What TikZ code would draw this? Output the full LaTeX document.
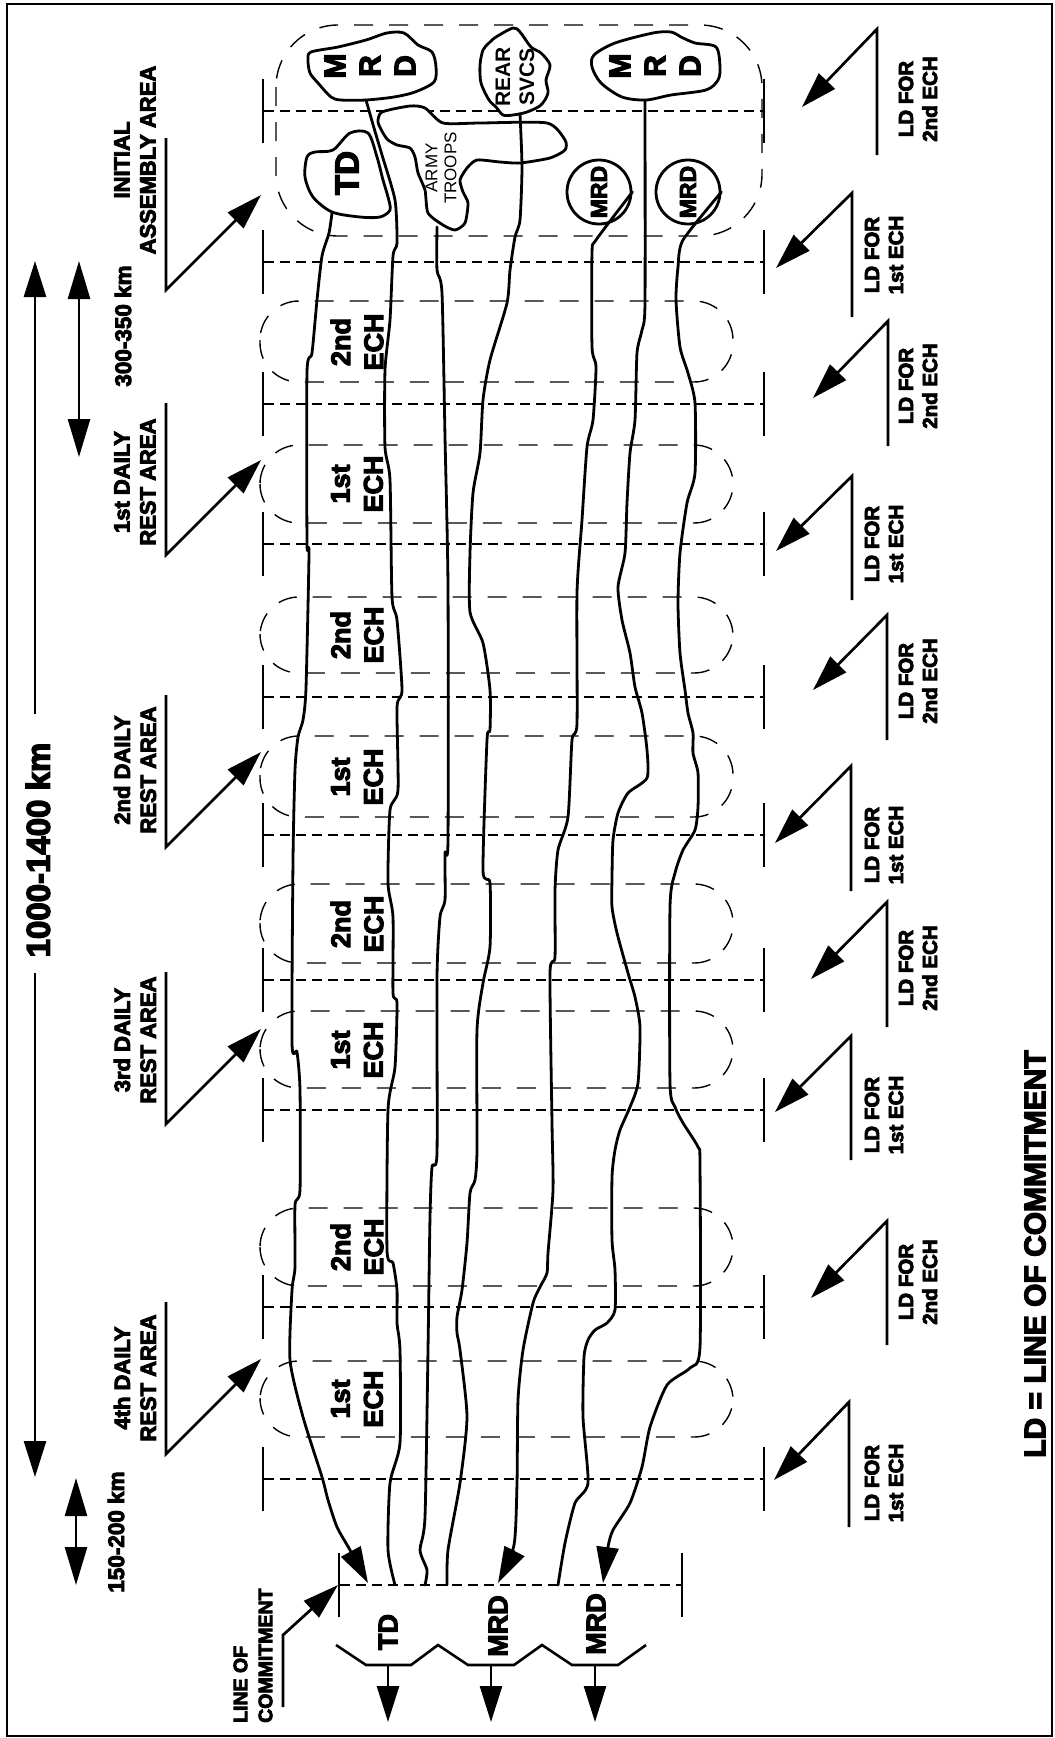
\documentclass[tikz,border=0pt]{standalone}
\usepackage{fontspec}
\setmainfont{Liberation Sans}
\newfontfamily\heavy[BoldFeatures={FakeBold=4}]{Liberation Sans}
\usepackage{tikz}
\usetikzlibrary{arrows.meta}
\tikzset{
    lbl/.style={rotate=90,align=center,inner sep=0pt},
    kmbig/.style={lbl,font=\fontsize{33}{38}\selectfont\heavy\bfseries},
    kmlbl/.style={lbl,font=\fontsize{22.5}{27}\selectfont\heavy\bfseries},
    restlbl/.style={lbl,font=\fontsize{22}{26}\selectfont\heavy\bfseries},
    ldlbl/.style={lbl,font=\fontsize{20.5}{24}\selectfont\heavy\bfseries},
    echlbl/.style={lbl,font=\fontsize{27}{33}\selectfont\heavy\bfseries},
    letters/.style={lbl,font=\fontsize{30}{35}\selectfont\heavy\bfseries},
    smalllbl/.style={lbl,font=\fontsize{21}{24}\selectfont\bfseries},
    tinylbl/.style={lbl,font=\fontsize{17}{19}\selectfont},
    bigarr/.style={-{Triangle[length=36pt,width=22pt]},line width=2.7pt},
    dblarr/.style={{Triangle[length=38pt,width=22pt]}-{Triangle[length=38pt,width=22pt]},line width=2.7pt},
    flow/.style={line width=2.8pt,line join=round,line cap=round},
    blob/.style={line width=2.8pt,line join=round,fill=white},
    mrdcirc/.style={circle,draw,line width=2.8pt,fill=white,minimum size=64pt,inner sep=0pt,rotate=90,font=\fontsize{23}{27}\selectfont\heavy\bfseries},
    phase/.style={{Bar[width=64pt,line width=2.4pt]}-{Bar[width=64pt,line width=2.4pt]},line width=1.7pt,dash pattern=on 10pt off 6pt},
    echarea/.style={line width=1.4pt,dash pattern=on 19pt off 16pt,rounded corners=39pt},
}
\begin{document}
\begin{tikzpicture}[x=1pt,y=-1pt]
\useasboundingbox (0,0) rectangle (1055,1738);
\draw[line width=2.4pt] (7,4) rectangle (1052,1736);

% assembly area and echelon areas
\draw[echarea,rounded corners=62pt] (276,25) rectangle (762,236);
\draw[echarea] (260,301) rectangle (733,382);
\draw[echarea] (260,445) rectangle (733,523);
\draw[echarea] (260,597) rectangle (733,673);
\draw[echarea] (260,736) rectangle (733,817);
\draw[echarea] (260,884) rectangle (733,963);
\draw[echarea] (260,1011) rectangle (733,1088);
\draw[echarea] (260,1208) rectangle (733,1286);
\draw[echarea] (260,1361) rectangle (733,1437);

% phase lines
\coordinate (ph1l) at (262,111);  \coordinate (ph1r) at (765,111);
\coordinate (ph2l) at (262,262);  \coordinate (ph2r) at (765,262);
\coordinate (ph3l) at (262,404);  \coordinate (ph3r) at (765,404);
\coordinate (ph4l) at (262,544);  \coordinate (ph4r) at (765,544);
\coordinate (ph5l) at (262,697);  \coordinate (ph5r) at (765,697);
\coordinate (ph6l) at (262,835);  \coordinate (ph6r) at (765,835);
\coordinate (ph7l) at (262,980);  \coordinate (ph7r) at (765,980);
\coordinate (ph8l) at (262,1110); \coordinate (ph8r) at (765,1110);
\coordinate (ph9l) at (262,1307); \coordinate (ph9r) at (765,1307);
\coordinate (ph10l) at (262,1479); \coordinate (ph10r) at (765,1479);
\draw[phase] (ph1l) -- (ph1r);
\draw[phase] (ph2l) -- (ph2r);
\draw[phase] (ph3l) -- (ph3r);
\draw[phase] (ph4l) -- (ph4r);
\draw[phase] (ph5l) -- (ph5r);
\draw[phase] (ph6l) -- (ph6r);
\draw[phase] (ph7l) -- (ph7r);
\draw[phase] (ph8l) -- (ph8r);
\draw[phase] (ph9l) -- (ph9r);
\draw[phase] (ph10l) -- (ph10r);

% units in the assembly area
\draw[blob] plot[smooth cycle,tension=0.5] coordinates {(308,60) (311,52) (338,47) (366,40) (387,33) (404,33) (418,45) (432,52) (436,67) (434,82) (415,92) (394,97) (366,100) (341,100) (331,97) (318,83) (310,73)};
\draw[blob] plot[smooth cycle,tension=0.5] coordinates {(594,55) (615,43) (653,33) (671,32) (681,37) (695,43) (716,47) (720,67) (718,80) (706,90) (671,95) (646,100) (622,97) (601,83) (592,67)};
\draw[blob] plot[smooth cycle,tension=0.5] coordinates {(489,43) (496,37) (513,28) (520,32) (531,47) (541,53) (550,65) (546,80) (548,93) (541,105) (527,112) (513,115) (503,115) (496,107) (489,100) (481,83) (480,65) (483,50)};
\draw[blob] plot[smooth cycle,tension=0.5] coordinates {(307,157) (315,152) (333,150) (350,133) (368,133) (377,157) (383,180) (388,197) (390,210) (380,217) (360,217) (332,212) (313,197) (305,177)};
\draw[blob] plot[smooth cycle,tension=0.4] coordinates {(382,112) (410,106) (425,108) (443,123) (480,123) (547,123) (565,140) (565,150) (550,158) (520,163) (500,162) (477,160) (467,168) (460,180) (463,192) (468,203) (465,223) (455,230) (443,225) (428,213) (425,190) (418,173) (415,157) (410,148) (397,145) (388,140) (383,133) (378,122)};
\node[letters] (mrdL) at (370,66) {M\\R\\D};
\node[letters] (mrdR) at (655,66) {M\\R\\D};
\node[smalllbl] (rear) at (515,77) {REAR\\SVCS};
\node[tinylbl] (army) at (441,168) {ARMY\\TROOPS};
\node[lbl,font=\fontsize{33}{38}\selectfont\heavy\bfseries] (td) at (347,173) {TD};
\node[mrdcirc] (mrdc1) at (599,192) {MRD};
\node[mrdcirc] (mrdc2) at (688,192) {MRD};

% line of commitment
\coordinate (lcl) at (338,1585); \coordinate (lcr) at (683,1585);
\draw[phase] (lcl) -- (lcr);
\coordinate (loc1) at (368,1583); \coordinate (loc2) at (395,1585);
\coordinate (loc3) at (425,1585); \coordinate (loc4) at (447,1585);
\coordinate (loc5) at (498,1583); \coordinate (loc6) at (558,1585);
\coordinate (loc7) at (603,1583);
\coordinate (tdout) at (332,213); \coordinate (mrdLout) at (366,100);
\coordinate (armyout) at (437,227); \coordinate (rearout) at (520,114);
\coordinate (mrdRout) at (645,100);

% march routes
\draw[flow,-{Triangle[length=36pt,width=22pt]}] plot[smooth,tension=0.4] coordinates {(tdout) (329,233) (322,256) (317,300) (312,353) (307,372) (307,543) (309,553) (306,688) (303,720) (298,737) (295,770) (293,860) (292,1043) (297,1052) (300,1090) (300,1190) (295,1205) (295,1267) (292,1290) (290,1360) (303,1417) (322,1477) (328,1500) (337,1527) (350,1550) (loc1)};
\draw[flow] plot[smooth,tension=0.4] coordinates {(mrdLout) (374,128) (382,155) (395,200) (397,243) (393,256) (390,320) (385,370) (385,447) (390,480) (392,597) (397,620) (402,690) (397,707) (398,790) (390,810) (388,883) (393,917) (393,993) (397,1003) (395,1067) (388,1110) (387,1250) (393,1263) (397,1290) (397,1323) (400,1350) (400,1443) (390,1483) (388,1550) (loc2)};
\draw[flow] plot[smooth,tension=0.4] coordinates {(armyout) (437,270) (442,293) (445,437) (448,587) (448,840) (445,853) (445,900) (440,917) (437,977) (437,1153) (432,1167) (430,1217) (428,1350) (425,1517) (420,1550) (427,1570) (loc3)};
\draw[flow] plot[smooth,tension=0.4] coordinates {(rearout) (522,167) (520,220) (515,237) (510,270) (507,303) (490,360) (483,400) (480,453) (473,493) (470,553) (470,612) (483,643) (490,690) (490,730) (487,740) (483,870) (490,883) (490,947) (483,983) (477,1030) (477,1150) (475,1180) (470,1193) (467,1243) (462,1290) (457,1317) (457,1333) (460,1350) (467,1417) (460,1483) (448,1550) (loc4)};
\draw[flow,-{Triangle[length=36pt,width=22pt]}] plot[smooth,tension=0.4] coordinates {(mrdc1.south) (596,240) (592,253) (592,347) (596,367) (593,420) (587,447) (582,520) (577,593) (577,723) (572,740) (568,817) (558,850) (555,890) (555,957) (550,973) (552,1123) (553,1190) (548,1253) (547,1273) (540,1287) (533,1303) (523,1350) (518,1400) (517,1483) (514,1545) (loc5)};
\draw[flow] plot[smooth,tension=0.4] coordinates {(mrdRout) (645,303) (642,330) (637,353) (635,420) (630,453) (627,503) (625,553) (618,587) (622,620) (630,653) (635,687) (642,713) (647,750) (647,778) (628,793) (618,813) (613,840) (612,877) (612,907) (617,933) (628,973) (635,997) (640,1027) (638,1083) (630,1107) (620,1130) (615,1150) (612,1177) (612,1240) (615,1270) (615,1310) (607,1323) (595,1330) (588,1340) (584,1357) (583,1417) (588,1483) (575,1503) (565,1543) (loc6)};
\draw[flow,-{Triangle[length=36pt,width=22pt]}] plot[smooth,tension=0.4] coordinates {(mrdc2.south) (683,240) (678,267) (676,300) (680,347) (688,373) (695,403) (695,473) (687,503) (680,553) (678,603) (680,653) (685,690) (688,713) (693,733) (693,753) (698,773) (698,807) (695,830) (683,850) (675,873) (670,907) (670,1083) (675,1107) (683,1123) (698,1147) (700,1165) (700,1347) (690,1368) (667,1385) (650,1427) (642,1467) (630,1503) (613,1530) (608,1547) (loc7)};

% echelon labels
\node[echlbl] (ech1) at (357,342) {2nd\\ECH};
\node[echlbl] (ech2) at (357,484) {1st\\ECH};
\node[echlbl] (ech3) at (357,635) {2nd\\ECH};
\node[echlbl] (ech4) at (357,777) {1st\\ECH};
\node[echlbl] (ech5) at (357,924) {2nd\\ECH};
\node[echlbl] (ech6) at (357,1050) {1st\\ECH};
\node[echlbl] (ech7) at (357,1247) {2nd\\ECH};
\node[echlbl] (ech8) at (357,1399) {1st\\ECH};

% distances
\coordinate (kmtop) at (35,261);   \coordinate (kmtopend) at (35,714);
\coordinate (kmbotend) at (35,973); \coordinate (kmbot) at (35,1477);
\draw[bigarr] (kmtopend) -- (kmtop);
\draw[bigarr] (kmbotend) -- (kmbot);
\node[kmbig] (kmlong) at (38,850) {1000-1400 km};
\coordinate (d300a) at (79,261); \coordinate (d300b) at (79,457);
\draw[dblarr] (d300a) -- (d300b);
\node[kmlbl] (km300) at (123,326) {300-350 km};
\coordinate (d150a) at (76,1478); \coordinate (d150b) at (76,1585);
\draw[dblarr] (d150a) -- (d150b);
\node[kmlbl] (km150) at (116,1532) {150-200 km};

% rest areas
\coordinate (ra1t) at (166,138);  \coordinate (ra1b) at (166,290);  \coordinate (ra1h) at (261,195);
\coordinate (ra2t) at (166,403);  \coordinate (ra2b) at (166,555);  \coordinate (ra2h) at (261,460);
\coordinate (ra3t) at (166,695);  \coordinate (ra3b) at (166,847);  \coordinate (ra3h) at (261,752);
\coordinate (ra4t) at (166,972);  \coordinate (ra4b) at (166,1124); \coordinate (ra4h) at (261,1029);
\coordinate (ra5t) at (166,1302); \coordinate (ra5b) at (166,1454); \coordinate (ra5h) at (261,1359);
\draw[bigarr] (ra1t) -- (ra1b) -- (ra1h);
\draw[bigarr] (ra2t) -- (ra2b) -- (ra2h);
\draw[bigarr] (ra3t) -- (ra3b) -- (ra3h);
\draw[bigarr] (ra4t) -- (ra4b) -- (ra4h);
\draw[bigarr] (ra5t) -- (ra5b) -- (ra5h);
\node[restlbl] (rest0) at (135,160) {INITIAL\\ASSEMBLY AREA};
\node[restlbl] (rest1) at (135,482) {1st DAILY\\REST AREA};
\node[restlbl] (rest2) at (135,770) {2nd DAILY\\REST AREA};
\node[restlbl] (rest3) at (135,1040) {3rd DAILY\\REST AREA};
\node[restlbl] (rest4) at (135,1378) {4th DAILY\\REST AREA};

% lines of departure
\coordinate (ld1t) at (877,29);    \coordinate (ld1b) at (877,155);   \coordinate (ld1h) at (802,107);
\coordinate (ld2t) at (852,193);   \coordinate (ld2b) at (852,317);   \coordinate (ld2h) at (776,268);
\coordinate (ld3t) at (888,321);   \coordinate (ld3b) at (888,446);   \coordinate (ld3h) at (813,398);
\coordinate (ld4t) at (852,476);   \coordinate (ld4b) at (852,600);   \coordinate (ld4h) at (776,551);
\coordinate (ld5t) at (887,615);   \coordinate (ld5b) at (887,740);   \coordinate (ld5h) at (813,690);
\coordinate (ld6t) at (851,766);   \coordinate (ld6b) at (851,891);   \coordinate (ld6h) at (775,843);
\coordinate (ld7t) at (887,902);   \coordinate (ld7b) at (887,1027);  \coordinate (ld7h) at (811,979);
\coordinate (ld8t) at (851,1036);  \coordinate (ld8b) at (851,1160);  \coordinate (ld8h) at (775,1112);
\coordinate (ld9t) at (887,1221);  \coordinate (ld9b) at (887,1345);  \coordinate (ld9h) at (811,1298);
\coordinate (ld10t) at (849,1402); \coordinate (ld10b) at (849,1527); \coordinate (ld10h) at (774,1480);
\draw[bigarr] (ld1b) -- (ld1t) -- (ld1h);
\draw[bigarr] (ld2b) -- (ld2t) -- (ld2h);
\draw[bigarr] (ld3b) -- (ld3t) -- (ld3h);
\draw[bigarr] (ld4b) -- (ld4t) -- (ld4h);
\draw[bigarr] (ld5b) -- (ld5t) -- (ld5h);
\draw[bigarr] (ld6b) -- (ld6t) -- (ld6h);
\draw[bigarr] (ld7b) -- (ld7t) -- (ld7h);
\draw[bigarr] (ld8b) -- (ld8t) -- (ld8h);
\draw[bigarr] (ld9b) -- (ld9t) -- (ld9h);
\draw[bigarr] (ld10b) -- (ld10t) -- (ld10h);
\node[ldlbl] (ld1) at (918,99) {LD FOR\\2nd ECH};
\node[ldlbl] (ld2) at (884,255) {LD FOR\\1st ECH};
\node[ldlbl] (ld3) at (918,386) {LD FOR\\2nd ECH};
\node[ldlbl] (ld4) at (884,544) {LD FOR\\1st ECH};
\node[ldlbl] (ld5) at (918,681) {LD FOR\\2nd ECH};
\node[ldlbl] (ld6) at (884,845) {LD FOR\\1st ECH};
\node[ldlbl] (ld7) at (918,968) {LD FOR\\2nd ECH};
\node[ldlbl] (ld8) at (884,1115) {LD FOR\\1st ECH};
\node[ldlbl] (ld9) at (918,1282) {LD FOR\\2nd ECH};
\node[ldlbl] (ld10) at (884,1483) {LD FOR\\1st ECH};

% committed divisions
\draw[line width=2.6pt] (336,1645) -- (366,1665) -- (411,1665) -- (438,1645) -- (468,1665) -- (514,1665) -- (542,1645) -- (572,1665) -- (618,1665) -- (646,1645);
\coordinate (u1s) at (388,1665); \coordinate (u1e) at (388,1722);
\coordinate (u2s) at (491,1665); \coordinate (u2e) at (491,1722);
\coordinate (u3s) at (595,1665); \coordinate (u3e) at (595,1722);
\draw[bigarr] (u1s) -- (u1e);
\draw[bigarr] (u2s) -- (u2e);
\draw[bigarr] (u3s) -- (u3e);
\node[echlbl] (unit1) at (388,1632) {TD};
\node[echlbl] (unit2) at (498,1626) {MRD};
\node[echlbl] (unit3) at (596,1624) {MRD};
\node[lbl,align=left,anchor=west,font=\fontsize{19.5}{25}\selectfont\heavy\bfseries] (loclbl) at (253,1723) {LINE OF\\COMMITMENT};
\coordinate (lcp1) at (283,1707); \coordinate (lcp2) at (283,1635);
\draw[bigarr] (lcp1) -- (lcp2) -- (lcl);

\node[lbl,font=\fontsize{30}{36}\selectfont\heavy\bfseries] (legend) at (1035,1254) {LD = LINE OF COMMITMENT};
\end{tikzpicture}
\end{document}
